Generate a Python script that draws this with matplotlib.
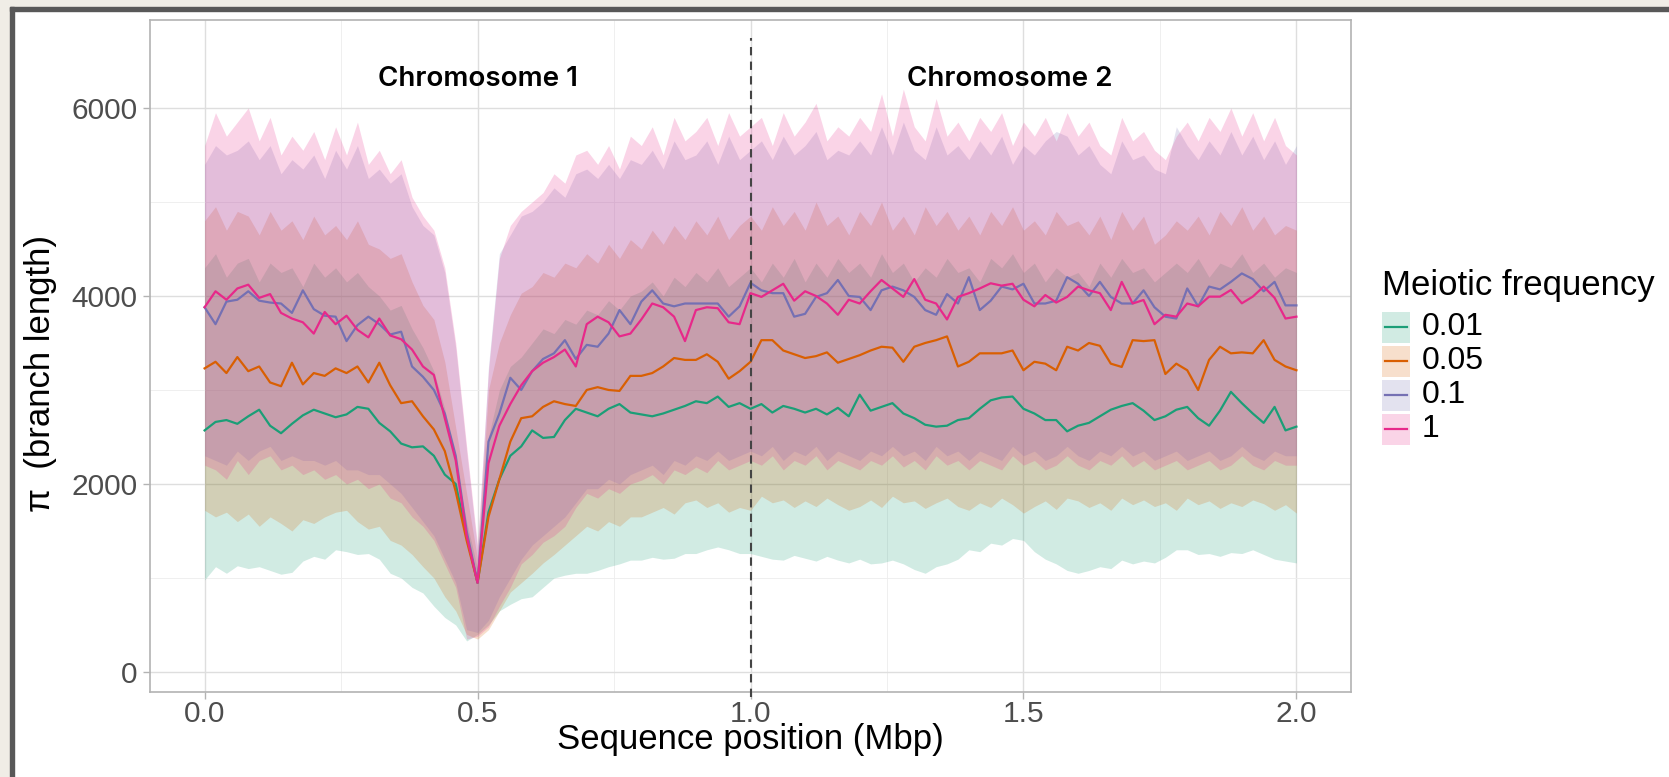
import numpy as np
import matplotlib
matplotlib.use("Agg")
import matplotlib.pyplot as plt
from matplotlib.patches import Rectangle
from matplotlib.lines import Line2D
from matplotlib.colors import to_rgba

# positions along the two concatenated chromosomes (Mbp), one value every 0.02 Mbp
pos = np.linspace(0, 2, 101)

freqs = ["0.01", "0.05", "0.1", "1"]
colors = ["#1B9E77", "#D95F02", "#7570B3", "#E7298A"]

# mean pi per meiotic frequency
mean_001 = [2570, 2660, 2680, 2640, 2720, 2790, 2620, 2540, 2640, 2730,
            2790, 2750, 2710, 2740, 2820, 2800, 2650, 2560, 2430, 2390,
            2400, 2300, 2100, 2000, 1450, 950, 1700, 2050, 2300, 2400,
            2570, 2490, 2500, 2680, 2800, 2760, 2720, 2800, 2850, 2760,
            2740, 2720, 2750, 2790, 2830, 2880, 2860, 2930, 2820, 2860,
            2800, 2850, 2760, 2830, 2800, 2760, 2800, 2740, 2810, 2720,
            2950, 2780, 2820, 2860, 2750, 2700, 2630, 2610, 2620, 2680,
            2700, 2800, 2890, 2920, 2930, 2800, 2750, 2680, 2680, 2560,
            2620, 2650, 2720, 2790, 2830, 2860, 2780, 2680, 2720, 2790,
            2820, 2700, 2620, 2780, 2980, 2860, 2750, 2650, 2820, 2570,
            2610]
mean_005 = [3230, 3300, 3180, 3350, 3200, 3250, 3080, 3040, 3290, 3060,
            3180, 3150, 3230, 3180, 3250, 3080, 3290, 3050, 2860, 2880,
            2720, 2580, 2350, 1920, 1400, 950, 1650, 2050, 2450, 2700,
            2720, 2820, 2880, 2850, 2830, 3000, 3030, 3000, 2990, 3150,
            3150, 3180, 3250, 3340, 3320, 3320, 3380, 3300, 3120, 3200,
            3300, 3530, 3530, 3420, 3380, 3340, 3360, 3400, 3290, 3330,
            3370, 3420, 3460, 3450, 3300, 3460, 3500, 3530, 3570, 3250,
            3300, 3390, 3390, 3390, 3420, 3210, 3300, 3280, 3210, 3460,
            3420, 3500, 3470, 3280, 3245, 3530, 3520, 3530, 3170, 3280,
            3210, 3000, 3320, 3460, 3390, 3400, 3390, 3530, 3320, 3250,
            3210]
mean_01 = [3880, 3700, 3940, 3960, 4050, 3950, 3930, 3920, 3820, 4060,
           3860, 3790, 3780, 3520, 3690, 3780, 3700, 3590, 3620, 3250,
           3140, 3000, 2750, 2300, 1500, 950, 2450, 2750, 3130, 3000,
           3200, 3330, 3390, 3530, 3330, 3480, 3460, 3600, 3850, 3700,
           3940, 4060, 3920, 3890, 3920, 3920, 3920, 3920, 3780, 3890,
           4140, 4060, 4030, 4030, 3780, 3810, 3990, 4030, 4170, 4000,
           3990, 3850, 4060, 4100, 4060, 3990, 3850, 3800, 4020, 3920,
           4200, 3850, 3950, 4100, 4070, 4130, 3920, 3920, 3950, 4200,
           4130, 4000, 4150, 3990, 3920, 3920, 4060, 3880, 3780, 3760,
           4080, 3890, 4100, 4070, 4150, 4240, 4180, 4050, 4150, 3900,
           3900]
mean_1 = [3880, 4050, 3960, 4080, 4120, 3980, 4020, 3820, 3760, 3720,
          3600, 3830, 3700, 3790, 3640, 3560, 3760, 3580, 3540, 3430,
          3250, 3160, 2700, 2250, 1450, 950, 2220, 2620, 2850, 3050,
          3200, 3290, 3350, 3430, 3250, 3700, 3780, 3720, 3570, 3600,
          3750, 3920, 3880, 3780, 3520, 3850, 3880, 3870, 3720, 3700,
          4030, 3990, 4060, 4130, 3950, 4050, 4000, 3920, 3800, 3960,
          3920, 4050, 4170, 4080, 3990, 4180, 3960, 3920, 3750, 3990,
          4030, 4080, 4135, 4110, 4130, 3960, 3890, 4010, 3930, 3990,
          4100, 4060, 4030, 3850, 4150, 3920, 3957, 3700, 3800, 3780,
          3920, 3890, 3993, 3993, 4064, 3922, 3993, 4100, 3980, 3760,
          3780]

# lower / upper ribbon bounds
low_001 = [980, 1120, 1050, 1130, 1100, 1120, 1080, 1040, 1060, 1180,
           1230, 1200, 1300, 1280, 1250, 1260, 1200, 1050, 1000, 900,
           840, 700, 580, 500, 330, 400, 500, 650, 720, 780,
           800, 900, 1000, 1030, 1050, 1050, 1080, 1120, 1150, 1190,
           1190, 1220, 1200, 1210, 1260, 1260, 1300, 1330, 1300, 1260,
           1260, 1230, 1200, 1190, 1240, 1210, 1180, 1230, 1190, 1160,
           1200, 1150, 1160, 1190, 1150, 1090, 1050, 1120, 1150, 1200,
           1300, 1280, 1370, 1350, 1420, 1400, 1280, 1200, 1150, 1080,
           1050, 1080, 1120, 1100, 1190, 1150, 1180, 1160, 1220, 1300,
           1300, 1250, 1260, 1230, 1270, 1260, 1300, 1250, 1200, 1180,
           1160]
up_001 = [4300, 4450, 4200, 4350, 4400, 4150, 4350, 4250, 4300, 4100,
          4350, 4200, 4300, 4150, 4250, 4100, 4000, 3850, 3900, 3650,
          3450, 3200, 2800, 2200, 1600, 1100, 2500, 3000, 3250, 3350,
          3500, 3650, 3600, 3750, 3700, 3850, 3800, 3950, 3850, 4000,
          4050, 4150, 4000, 4200, 4100, 4250, 4150, 4300, 4100, 4200,
          4300, 4150, 4350, 4200, 4400, 4150, 4350, 4200, 4400, 4250,
          4350, 4200, 4450, 4250, 4350, 4150, 4300, 4200, 4400, 4250,
          4300, 4150, 4400, 4300, 4450, 4250, 4350, 4150, 4300, 4200,
          4250, 4100, 4350, 4200, 4400, 4250, 4300, 4150, 4250, 4350,
          4250, 4400, 4200, 4350, 4300, 4450, 4250, 4350, 4200, 4300,
          4250]
low_005 = [1720, 1650, 1700, 1600, 1680, 1550, 1650, 1580, 1500, 1620,
           1580, 1650, 1700, 1720, 1600, 1520, 1550, 1400, 1350, 1250,
           1120, 1000, 800, 650, 400, 350, 450, 650, 850, 950,
           1050, 1160, 1250, 1350, 1450, 1550, 1500, 1600, 1550, 1650,
           1650, 1700, 1750, 1680, 1800, 1830, 1750, 1800, 1700, 1750,
           1720, 1870, 1800, 1830, 1750, 1820, 1760, 1850, 1780, 1720,
           1760, 1830, 1750, 1870, 1800, 1820, 1740, 1800, 1850, 1760,
           1720, 1800, 1750, 1850, 1780, 1690, 1760, 1820, 1730, 1850,
           1820, 1750, 1800, 1720, 1850, 1780, 1830, 1760, 1800, 1720,
           1850, 1780, 1820, 1740, 1800, 1760, 1830, 1790, 1720, 1780,
           1690]
up_005 = [4800, 4950, 4700, 4900, 4850, 4650, 4900, 4700, 4800, 4600,
          4850, 4650, 4750, 4600, 4800, 4550, 4500, 4400, 4450, 4150,
          3900, 3750, 3300, 2600, 1900, 1200, 3000, 3500, 3800, 4030,
          4100, 4250, 4200, 4350, 4300, 4450, 4350, 4550, 4400, 4600,
          4500, 4700, 4550, 4750, 4600, 4800, 4650, 4850, 4600, 4750,
          4850, 4700, 4950, 4750, 4900, 4700, 5000, 4750, 4850, 4650,
          4900, 4750, 5000, 4700, 4850, 4650, 4950, 4750, 4900, 4700,
          4850, 4650, 4900, 4750, 4950, 4700, 4800, 4650, 4900, 4750,
          4800, 4650, 4850, 4600, 4900, 4700, 4850, 4550, 4650, 4800,
          4700, 4850, 4650, 4900, 4750, 4950, 4700, 4850, 4650, 4750,
          4700]
low_01 = [2300, 2250, 2200, 2350, 2250, 2350, 2400, 2250, 2300, 2250,
          2250, 2200, 2250, 2150, 2150, 2100, 2100, 2000, 1900, 1750,
          1600, 1450, 1200, 950, 450, 420, 550, 800, 1000, 1200,
          1350, 1450, 1550, 1650, 1800, 1950, 1950, 2050, 2000, 2100,
          2150, 2200, 2100, 2250, 2200, 2300, 2250, 2350, 2250, 2300,
          2350, 2300, 2400, 2250, 2350, 2300, 2400, 2250, 2350, 2300,
          2250, 2350, 2300, 2400, 2300, 2350, 2250, 2400, 2300, 2350,
          2250, 2350, 2300, 2250, 2400, 2300, 2350, 2250, 2300, 2400,
          2300, 2250, 2350, 2300, 2400, 2300, 2350, 2250, 2300, 2350,
          2250, 2300, 2350, 2250, 2300, 2400, 2300, 2250, 2350, 2300,
          2300]
up_01 = [5400, 5600, 5500, 5550, 5650, 5450, 5600, 5300, 5450, 5350,
         5500, 5250, 5550, 5350, 5600, 5250, 5350, 5200, 5300, 4950,
         4750, 4650, 4250, 3450, 2350, 1300, 3250, 4450, 4650, 4850,
         4900, 5000, 5150, 5050, 5300, 5350, 5250, 5400, 5250, 5450,
         5400, 5550, 5350, 5650, 5450, 5500, 5650, 5400, 5700, 5450,
         5550, 5650, 5450, 5700, 5500, 5600, 5750, 5450, 5550, 5500,
         5650, 5500, 5800, 5500, 5850, 5550, 5450, 5800, 5500, 5600,
         5450, 5650, 5500, 5700, 5400, 5600, 5500, 5650, 5750, 5700,
         5500, 5600, 5400, 5300, 5650, 5450, 5500, 5350, 5300, 5800,
         5600, 5450, 5650, 5500, 5750, 5500, 5700, 5450, 5650, 5400,
         5600]
low_1 = [2200, 2150, 2050, 2250, 2100, 2250, 2300, 2150, 2200, 2100,
         2150, 2050, 2100, 2000, 2050, 1950, 2000, 1850, 1800, 1650,
         1550, 1400, 1150, 900, 350, 380, 480, 700, 900, 1150,
         1250, 1380, 1450, 1550, 1750, 1900, 1850, 1950, 1900, 2000,
         2040, 2100, 2000, 2150, 2100, 2180, 2120, 2250, 2150, 2200,
         2250, 2200, 2300, 2150, 2250, 2200, 2300, 2150, 2250, 2200,
         2150, 2250, 2200, 2300, 2180, 2250, 2150, 2300, 2200, 2250,
         2150, 2250, 2200, 2150, 2300, 2200, 2250, 2150, 2200, 2300,
         2200, 2150, 2250, 2200, 2300, 2180, 2250, 2150, 2200, 2250,
         2150, 2200, 2250, 2150, 2200, 2300, 2200, 2150, 2250, 2200,
         2200]
up_1 = [5600, 5950, 5700, 5850, 6000, 5650, 5900, 5500, 5700, 5550,
        5750, 5450, 5800, 5500, 5850, 5400, 5550, 5300, 5450, 5050,
        4850, 4700, 4300, 3500, 2400, 1350, 3200, 4400, 4750, 4900,
        5000, 5100, 5300, 5200, 5500, 5550, 5400, 5600, 5350, 5700,
        5600, 5800, 5500, 5900, 5650, 5750, 5900, 5600, 5950, 5700,
        5800, 5900, 5600, 5950, 5700, 5850, 6050, 5650, 5800, 5700,
        5900, 5750, 6150, 5700, 6200, 5800, 5650, 6100, 5700, 5850,
        5650, 5900, 5750, 5950, 5600, 5850, 5700, 5900, 5650, 5950,
        5700, 5850, 5600, 5500, 5900, 5650, 5750, 5550, 5450, 5700,
        5850, 5650, 5900, 5750, 6000, 5700, 5950, 5650, 5900, 5600,
        5500]

means = [mean_001, mean_005, mean_01, mean_1]
lows = [low_001, low_005, low_01, low_1]
ups = [up_001, up_005, up_01, up_1]

W, H = 1669, 777
ALPHA = 0.2

def fx(px):
    return px / W

def fy(py):
    return 1 - py / H

fig = plt.figure(figsize=(W / 100, H / 100), dpi=100, facecolor="white")

# slide frame (beige margin + dark border, cut at right/bottom)
fig.patches.append(Rectangle((0, fy(7)), 1, 7 / H, transform=fig.transFigure, color="#f0ede6", zorder=0))
fig.patches.append(Rectangle((0, 0), fx(10), 1, transform=fig.transFigure, color="#f0ede6", zorder=0))
fig.patches.append(Rectangle((fx(10), fy(11)), 1, 4 / H, transform=fig.transFigure, color="#585858", zorder=1))
fig.patches.append(Rectangle((fx(10), 0), 4 / W, fy(7), transform=fig.transFigure, color="#585858", zorder=1))

ax = fig.add_axes([fx(150), fy(692), fx(1351) - fx(150), (692 - 20) / H])

for y_lo, y_hi, c in zip(lows, ups, colors):
    ax.fill_between(pos, y_lo, y_hi, color=c, alpha=ALPHA, linewidth=0, zorder=1)
for m, c in zip(means, colors):
    ax.plot(pos, m, color=c, lw=1.6, zorder=2)

ax.axvline(1.0, ymin=-0.008, ymax=0.973, color="#444444", lw=1.5,
           linestyle=(0, (4, 3)), clip_on=False, zorder=4)

ax.text(0.5, 6234, "Chromosome 1", ha="center", va="baseline",
        fontfamily="Inter", fontweight="semibold", fontsize=20, color="black", zorder=5)
ax.text(1.474, 6234, "Chromosome 2", ha="center", va="baseline",
        fontfamily="Inter", fontweight="semibold", fontsize=20, color="black", zorder=5)

ax.set_xlim(-0.1, 2.1)
ax.set_ylim(-213, 6936)
ax.set_xticks([0, 0.5, 1.0, 1.5, 2.0])
ax.set_xticklabels(["0.0", "0.5", "1.0", "1.5", "2.0"])
ax.set_yticks([0, 2000, 4000, 6000])
ax.set_xticks([0.25, 0.75, 1.25, 1.75], minor=True)
ax.set_yticks([1000, 3000, 5000], minor=True)
ax.set_axisbelow(True)
ax.grid(which="major", color="#dedede", lw=1.0)
ax.grid(which="minor", color="#ededed", lw=0.6)
ax.tick_params(which="major", length=5, width=1, color="#b3b3b3", labelsize=21.5,
               labelcolor="#4d4d4d", pad=4)
ax.tick_params(axis="x", which="major", pad=1)
ax.tick_params(which="minor", length=0)
for lab in ax.get_xticklabels() + ax.get_yticklabels():
    lab.set_fontfamily("Liberation Sans")
for sp in ax.spines.values():
    sp.set_edgecolor("#b3b3b3")
    sp.set_linewidth(1.2)

ax.set_xlabel("Sequence position (Mbp)", fontfamily="Liberation Sans", fontsize=25, va="baseline")
ax.xaxis.set_label_coords(0.5, (692 - 749) / 672)
ax.set_ylabel("π  (branch length)", fontfamily="Liberation Sans", fontsize=25, va="center", ha="center")
ax.yaxis.set_label_coords((40 - 150) / 1201, (692 - 374) / 672)

# legend
fig.text(fx(1382), fy(295), "Meiotic frequency", fontfamily="Liberation Sans", fontsize=25,
         va="baseline", ha="left")
for i, (lab, c) in enumerate(zip(freqs, colors)):
    cy = 327 + 34 * i
    fig.patches.append(Rectangle((fx(1382), fy(cy + 15.5)), 28 / W, 31 / H, transform=fig.transFigure,
                                 facecolor=to_rgba(c, ALPHA), edgecolor="none"))
    fig.lines.append(Line2D([fx(1385), fx(1407)], [fy(cy), fy(cy)], transform=fig.transFigure,
                            color=c, lw=1.6))
    fig.text(fx(1422), fy(cy), lab, fontfamily="Liberation Sans", fontsize=23, va="center", ha="left")

fig.savefig("out.png", dpi=100, facecolor=fig.get_facecolor())
